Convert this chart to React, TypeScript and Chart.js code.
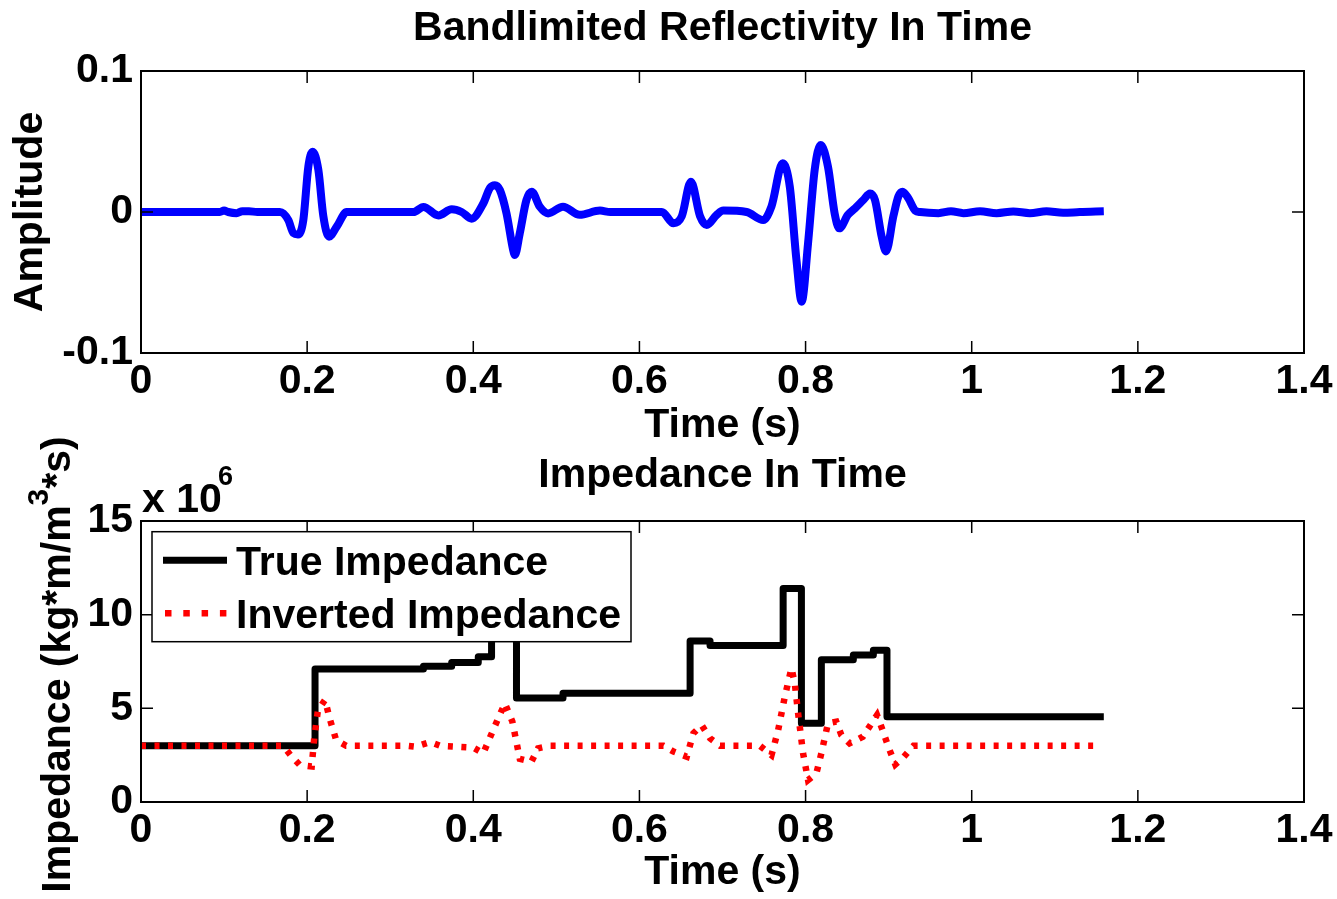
import React, { useEffect, useRef } from 'react';
import { Chart, registerables } from 'chart.js';

Chart.register(...registerables);

const FONT = '"Liberation Sans", Arial, Helvetica, sans-serif';

// ---------- tick values / labels ----------
const xTickValues = [0, 0.2, 0.4, 0.6, 0.8, 1.0, 1.2, 1.4];
const xTickLabels = ['0', '0.2', '0.4', '0.6', '0.8', '1', '1.2', '1.4'];
const ampTickValues = [-0.1, 0, 0.1];
const ampTickLabels = ['-0.1', '0', '0.1'];
const impTickValues = [0, 5, 10, 15];
const impTickLabels = ['0', '5', '10', '15'];

// ---------- texts ----------
const topTitle = 'Bandlimited Reflectivity In Time';
const bottomTitle = 'Impedance In Time';
const xAxisTitle = 'Time (s)';
const ampAxisTitle = 'Amplitude';
const impAxisTitleParts = ['Impedance (kg*m/m', '3', '*s)'];
const impExponent = ['x 10', '6'];
const seriesNames = ['True Impedance', 'Inverted Impedance'];

// ---------- bandlimited reflectivity (s, amplitude) ----------
const reflTime = [
  0, 0.095, 0.1, 0.105, 0.115, 0.122, 0.13, 0.14, 0.1673, 0.1773, 0.1834, 0.189, 0.1954, 0.2014,
  0.2066, 0.2135, 0.2195, 0.2263, 0.2356, 0.2476, 0.328, 0.34, 0.358, 0.374, 0.386, 0.398,
  0.412, 0.42, 0.426, 0.432, 0.44, 0.448, 0.45, 0.456, 0.464, 0.4703, 0.48, 0.49, 0.508, 0.528,
  0.5525, 0.565, 0.627, 0.641, 0.651, 0.662, 0.673, 0.681, 0.693, 0.701, 0.729, 0.749, 0.759,
  0.7724, 0.781, 0.789, 0.7953, 0.803, 0.811, 0.8182, 0.827, 0.835, 0.8406, 0.851, 0.8595,
  0.8695, 0.8776, 0.8836, 0.8916, 0.8968, 0.9057, 0.9117, 0.9168, 0.9237, 0.932, 0.938, 0.96,
  0.975, 0.99, 1.01, 1.03, 1.05, 1.07, 1.09, 1.11, 1.13, 1.159,
];
const reflAmp = [
  0, 0, 0.001, 0, -0.0008, 0.0005, 0.0005, 0, 0, -0.0057, -0.015, -0.016, -0.0057, 0.032,
  0.0428, 0.0298, -0.003, -0.0175, -0.0104, 0, 0, 0.0036, -0.0024, 0.0019, 0, -0.0047,
  0.006, 0.017, 0.019, 0.0156, -0.001, -0.027, -0.0305, -0.015, 0.0085, 0.0144, 0.0038, -0.001, 0.0038, -0.002,
  0.001, 0, 0, -0.008, -0.003, 0.0215, -0.003, -0.0092, -0.002, 0.001, 0, -0.0057, 0.004,
  0.0345, 0.018, -0.034, -0.0636, -0.022, 0.03, 0.0475, 0.032, -0.001, -0.0116, -0.002, 0.0026,
  0.0085, 0.0132, 0.0085, -0.0175, -0.028, -0.003, 0.011, 0.0144, 0.0097, 0.001, 0, -0.0008,
  0.0005, -0.0008, 0.0005, -0.0008, 0.0004, -0.0008, 0.0005, -0.0006, 0, 0.0005,
];

// ---------- true impedance (step start time s, value x10^6) ----------
const trueTime = [0, 0.2095, 0.34, 0.374, 0.406, 0.422, 0.452, 0.508, 0.661, 0.685, 0.773, 0.795, 0.819, 0.8575, 0.8816, 0.898, 1.159];
const trueImp = [3.0, 7.1, 7.25, 7.45, 7.75, 9.0, 5.55, 5.8, 8.6, 8.35, 11.4, 4.2, 7.6, 7.85, 8.1, 4.55, 4.55];

// ---------- inverted impedance (s, value x10^6) ----------
const invTime = [
  0, 0.171, 0.18, 0.191, 0.2055, 0.2085, 0.213, 0.2215, 0.2275, 0.235, 0.247, 0.32, 0.33, 0.348,
  0.36, 0.4, 0.412, 0.424, 0.438, 0.447, 0.456, 0.47, 0.478, 0.492, 0.629, 0.641, 0.657, 0.665,
  0.675, 0.685, 0.697, 0.745, 0.759, 0.767, 0.775, 0.783, 0.787, 0.791, 0.797, 0.803, 0.813,
  0.819, 0.827, 0.837, 0.843, 0.853, 0.869, 0.886, 0.893, 0.9, 0.908, 0.918, 0.93, 1.155,
];
const invImp = [
  3.0, 3.0, 2.5, 1.98, 1.9, 3.4, 4.9, 5.45, 4.4, 3.3, 3.0, 3.0, 2.95, 3.2,
  3.0, 2.9, 2.6, 3.85, 5.27, 4.3, 2.3, 2.15, 2.87, 3.0, 3.0, 2.69, 2.42, 3.67,
  4.1, 3.4, 3.0, 3.0, 2.5, 3.84, 5.62, 7.14, 6.34, 4.74, 2.6, 1.17, 1.53,
  2.6, 4.2, 4.29, 3.58, 3.13, 3.49, 4.64, 3.8, 2.9, 2.0, 2.4, 3.0, 3.0,
];

const bigFont = { family: FONT, size: 41, weight: 'bold' as const };

function tickedAxis(values: number[], labels: string[], padding: number) {
  return {
    afterBuildTicks: (scale: any) => {
      scale.ticks = values.map((v) => ({ value: v }));
    },
    ticks: {
      autoSkip: false,
      maxRotation: 0,
      minRotation: 0,
      padding,
      font: bigFont,
      color: '#000',
      callback: (_v: any, i: number) => labels[i],
    },
    grid: { display: false, drawTicks: false },
    border: { display: false },
  };
}

function framePlugin() {
  return {
    id: 'matlabFrame',
    afterDatasetsDraw(chart: any) {
      const { ctx, chartArea: a, scales } = chart;
      ctx.save();
      ctx.strokeStyle = '#000';
      ctx.lineWidth = 2;
      ctx.strokeRect(a.left, a.top, a.right - a.left, a.bottom - a.top);
      ctx.lineWidth = 1.5;
      const tl = 12;
      ctx.beginPath();
      scales.x.ticks.forEach((t: any) => {
        const p = scales.x.getPixelForValue(t.value);
        ctx.moveTo(p, a.bottom);
        ctx.lineTo(p, a.bottom - tl);
        ctx.moveTo(p, a.top);
        ctx.lineTo(p, a.top + tl);
      });
      scales.y.ticks.forEach((t: any) => {
        const p = scales.y.getPixelForValue(t.value);
        ctx.moveTo(a.left, p);
        ctx.lineTo(a.left + tl, p);
        ctx.moveTo(a.right, p);
        ctx.lineTo(a.right - tl, p);
      });
      ctx.stroke();
      ctx.restore();
    },
  };
}

function ampTitlePlugin() {
  return {
    id: 'ampTitle',
    afterDraw(chart: any) {
      const { ctx, chartArea: a } = chart;
      ctx.save();
      ctx.translate(42, (a.top + a.bottom) / 2);
      ctx.rotate(-Math.PI / 2);
      ctx.font = `bold 41px ${FONT}`;
      ctx.fillStyle = '#000';
      ctx.textAlign = 'center';
      ctx.textBaseline = 'alphabetic';
      ctx.fillText(ampAxisTitle, 0, 0);
      ctx.restore();
    },
  };
}

function impDecorPlugin() {
  return {
    id: 'impDecor',
    afterDraw(chart: any) {
      const { ctx, chartArea: a } = chart;
      ctx.save();
      ctx.fillStyle = '#000';
      ctx.textBaseline = 'alphabetic';
      ctx.textAlign = 'left';

      // legend box
      const bx = a.left + 11;
      const by = a.top + 10.7;
      const bw = 479;
      const bh = 110;
      ctx.fillStyle = '#fff';
      ctx.fillRect(bx, by, bw, bh);
      ctx.strokeStyle = '#000';
      ctx.lineWidth = 1.5;
      ctx.strokeRect(bx, by, bw, bh);
      ctx.lineWidth = 7;
      ctx.strokeStyle = '#000';
      ctx.beginPath();
      ctx.moveTo(bx + 11, by + 28.5);
      ctx.lineTo(bx + 75, by + 28.5);
      ctx.stroke();
      ctx.strokeStyle = '#FF0000';
      ctx.lineWidth = 6.5;
      ctx.setLineDash([6.5, 11.8]);
      ctx.beginPath();
      ctx.moveTo(bx + 13, by + 81.5);
      ctx.lineTo(bx + 75, by + 81.5);
      ctx.stroke();
      ctx.setLineDash([]);
      ctx.fillStyle = '#000';
      ctx.font = `bold 41px ${FONT}`;
      ctx.fillText(seriesNames[0], bx + 84, by + 43.5);
      ctx.fillText(seriesNames[1], bx + 84, by + 96.5);

      // x 10^6
      ctx.font = `bold 41px ${FONT}`;
      ctx.fillText(impExponent[0], a.left + 1, a.top - 9);
      ctx.font = `bold 27px ${FONT}`;
      ctx.fillText(impExponent[1], a.left + 77, a.top - 36);

      // y title with superscript
      ctx.save();
      ctx.translate(70, (a.top + a.bottom) / 2 + 3);
      ctx.rotate(-Math.PI / 2);
      ctx.font = `bold 41px ${FONT}`;
      const w0 = ctx.measureText(impAxisTitleParts[0]).width;
      const w2 = ctx.measureText(impAxisTitleParts[2]).width;
      ctx.font = `bold 30px ${FONT}`;
      const w1 = ctx.measureText(impAxisTitleParts[1]).width;
      let x = -(w0 + w1 + w2) / 2;
      ctx.font = `bold 41px ${FONT}`;
      ctx.fillText(impAxisTitleParts[0], x, 0);
      x += w0;
      ctx.font = `bold 30px ${FONT}`;
      ctx.fillText(impAxisTitleParts[1], x, -22);
      x += w1;
      ctx.font = `bold 41px ${FONT}`;
      ctx.fillText(impAxisTitleParts[2], x, 0);
      ctx.restore();

      ctx.restore();
    },
  };
}

function baseOptions(title: string, titlePad: { top: number; bottom: number }, xTitlePadBottom: number, xAxisHeight: number) {
  return {
    responsive: false,
    animation: false as const,
    events: [] as any[],
    layout: { padding: { left: 0, right: 33, top: 0, bottom: 0 } },
    plugins: {
      legend: { display: false },
      tooltip: { enabled: false },
      title: {
        display: true,
        text: title,
        font: bigFont,
        color: '#000',
        fullSize: false,
        padding: titlePad,
      },
    },
    scales: {
      x: {
        type: 'linear' as const,
        min: 0,
        max: 1.4,
        ...tickedAxis(xTickValues, xTickLabels, 4),
        title: {
          display: true,
          text: xAxisTitle,
          font: bigFont,
          color: '#000',
          padding: { top: 0, bottom: xTitlePadBottom },
        },
        afterFit: (s: any) => {
          s.height = xAxisHeight;
          s.paddingLeft = 0;
          s.paddingRight = 0;
        },
      },
    },
  };
}

export default function App() {
  const topRef = useRef<HTMLCanvasElement | null>(null);
  const botRef = useRef<HTMLCanvasElement | null>(null);

  useEffect(() => {
    const topOpts: any = baseOptions(topTitle, { top: 4.4, bottom: 17.4 }, 0, 97);
    topOpts.scales.y = {
      type: 'linear',
      min: -0.1,
      max: 0.1,
      ...tickedAxis(ampTickValues, ampTickLabels, 8),
      afterFit: (s: any) => {
        s.width = 141;
        s.paddingTop = 0;
        s.paddingBottom = 0;
      },
    };
    const top = new Chart(topRef.current as HTMLCanvasElement, {
      type: 'line',
      data: {
        datasets: [
          {
            label: 'Reflectivity',
            data: reflTime.map((t, i) => ({ x: t, y: reflAmp[i] })),
            borderColor: '#0000FF',
            borderWidth: 8,
            pointRadius: 0,
            cubicInterpolationMode: 'monotone',
            borderJoinStyle: 'round',
            borderCapStyle: 'butt',
            fill: false,
          },
        ],
      },
      options: topOpts,
      plugins: [framePlugin(), ampTitlePlugin()],
    });

    const botOpts: any = baseOptions(bottomTitle, { top: 31.4, bottom: 20.4 }, 1.4, 97);
    botOpts.scales.y = {
      type: 'linear',
      min: 0,
      max: 15,
      ...tickedAxis(impTickValues, impTickLabels, 8),
      afterFit: (s: any) => {
        s.width = 141;
        s.paddingTop = 0;
        s.paddingBottom = 0;
      },
    };
    const bot = new Chart(botRef.current as HTMLCanvasElement, {
      type: 'line',
      data: {
        datasets: [
          {
            label: seriesNames[0],
            data: trueTime.map((t, i) => ({ x: t, y: trueImp[i] })),
            borderColor: '#000000',
            borderWidth: 7,
            pointRadius: 0,
            stepped: 'before',
            borderJoinStyle: 'round',
            borderCapStyle: 'butt',
            fill: false,
            order: 2,
          },
          {
            label: seriesNames[1],
            data: invTime.map((t, i) => ({ x: t, y: invImp[i] })),
            borderColor: '#FF0000',
            borderWidth: 6.5,
            borderDash: [5, 8.5],
            pointRadius: 0,
            tension: 0,
            borderJoinStyle: 'miter',
            borderCapStyle: 'butt',
            fill: false,
            order: 1,
          },
        ],
      },
      options: botOpts,
      plugins: [framePlugin(), impDecorPlugin()],
    });

    return () => {
      top.destroy();
      bot.destroy();
    };
  }, []);

  return (
    <div style={{ position: 'absolute', left: 0, top: 0, width: 1337, height: 899, background: '#fff', overflow: 'hidden' }}>
      <canvas ref={topRef} width={1337} height={450} style={{ position: 'absolute', left: 0, top: 0, width: 1337, height: 450 }} />
      <canvas ref={botRef} width={1337} height={479} style={{ position: 'absolute', left: 0, top: 420, width: 1337, height: 479 }} />
    </div>
  );
}
